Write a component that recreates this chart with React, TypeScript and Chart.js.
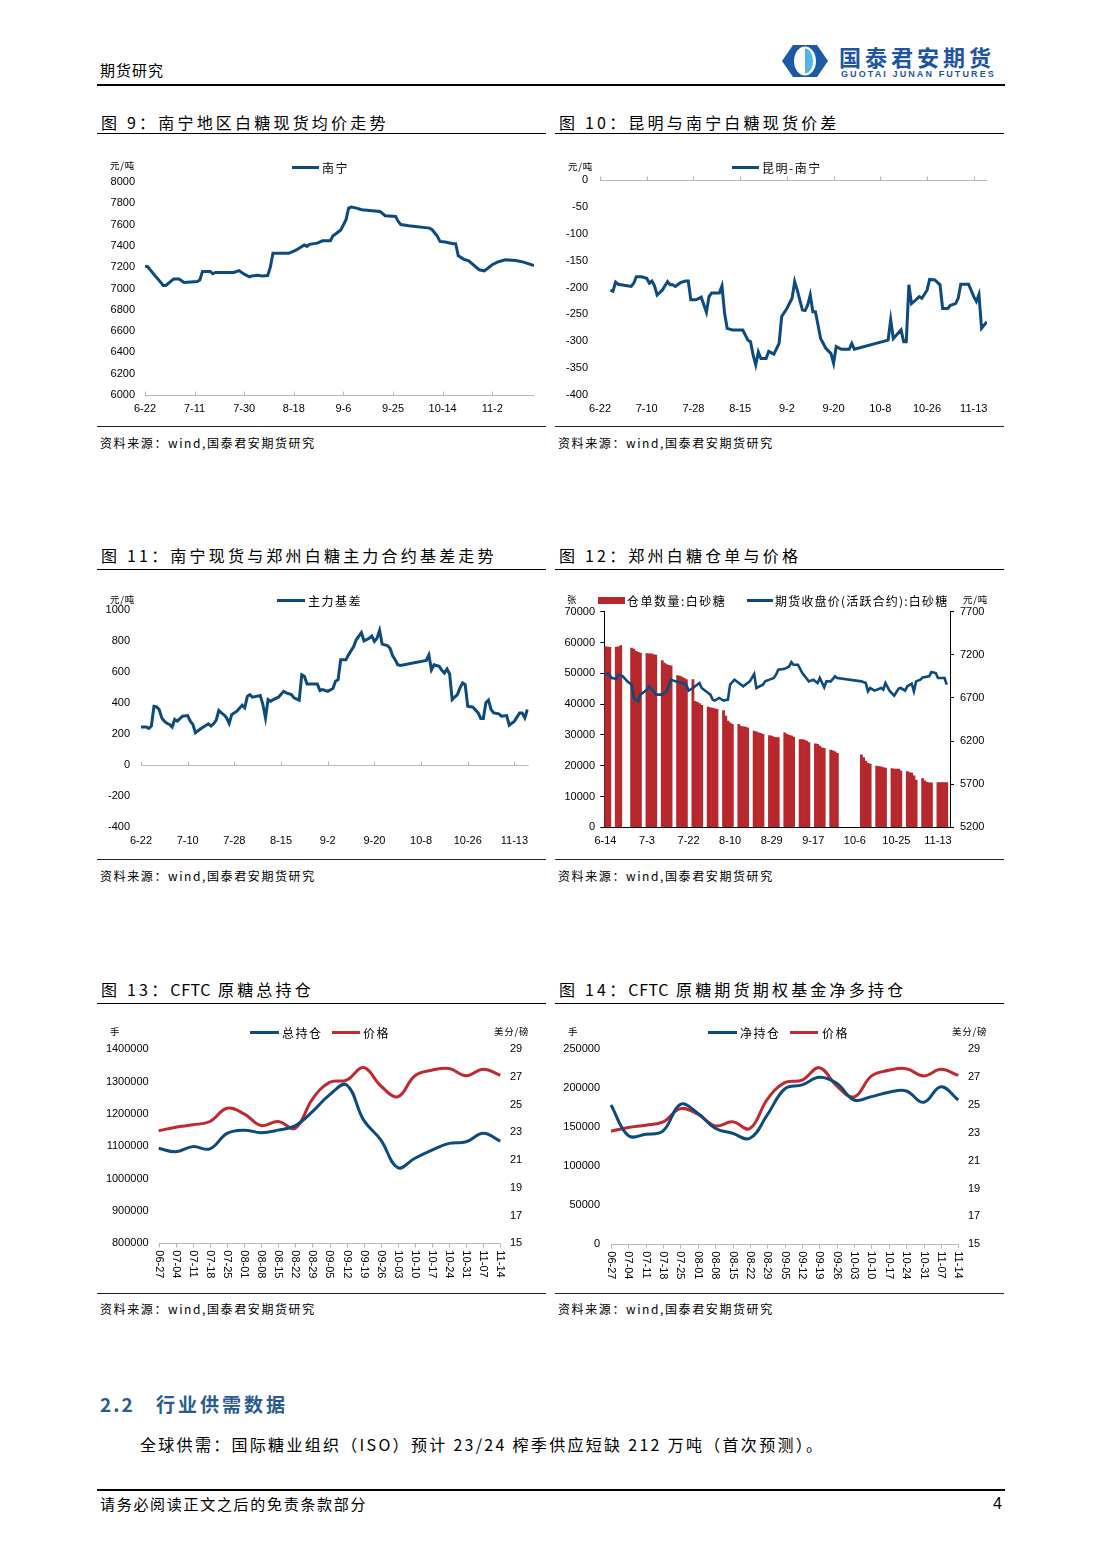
import React, { useEffect, useRef } from 'react';
import { Chart, registerables } from 'chart.js';

Chart.register(...registerables);

const NUM_FONT = "'Liberation Sans', Arial, Helvetica, sans-serif";
const CJK_FONT = "'Noto Sans CJK SC', 'Noto Sans', sans-serif";
Chart.defaults.font.family = NUM_FONT;
Chart.defaults.font.size = 11;
Chart.defaults.color = '#000';

const BLUE = '#0d4a7e';
const RED = '#c0292e';
const BAR_RED = '#b7282d';
const AXIS_GRAY = '#b8b8b8';

// ---------- 图9 南宁白糖现货均价 (day offset from 6-22) ----------
const NN_TICK_DAYS = [0, 19, 38, 57, 76, 95, 114, 133];
const NN_TICK_LABELS = ['6-22', '7-11', '7-30', '8-18', '9-6', '9-25', '10-14', '11-2'];
const NN_DAYS = [0, 1, 4, 5, 7, 8, 11, 13, 15, 20, 21, 22, 25, 26, 27, 34, 36, 38, 40, 41, 43, 45, 47, 48, 49, 55, 57, 58, 61, 62, 63, 66, 68, 71, 72, 73, 75, 77, 78, 79, 81, 83, 87, 90, 92, 96, 97, 98, 101, 109, 110, 112, 113, 115, 118, 119, 120, 122, 124, 128, 130, 133, 135, 138, 142, 145, 149];
const NN_PRICE = [7210, 7205, 7115, 7088, 7028, 7028, 7090, 7090, 7056, 7065, 7080, 7160, 7160, 7138, 7150, 7150, 7168, 7135, 7110, 7118, 7125, 7118, 7122, 7200, 7330, 7330, 7352, 7362, 7408, 7395, 7415, 7426, 7448, 7448, 7495, 7512, 7550, 7646, 7755, 7765, 7755, 7740, 7730, 7724, 7683, 7677, 7630, 7600, 7589, 7567, 7552, 7489, 7442, 7436, 7420, 7420, 7307, 7276, 7260, 7176, 7166, 7223, 7248, 7270, 7263, 7248, 7216];

// ---------- 图10 昆明-南宁 (day offset from 6-22) ----------
const KM_TICK_DAYS = [0, 18, 36, 54, 72, 90, 108, 126, 144];
const KM_TICK_LABELS = ['6-22', '7-10', '7-28', '8-15', '9-2', '9-20', '10-8', '10-26', '11-13'];
const KM_DAYS = [4, 5, 6, 7, 12, 13, 14, 16, 18, 19, 20, 21, 22, 24, 26, 27, 28, 29, 31, 33, 34, 35, 37, 39, 41, 42, 43, 46, 47, 48, 49, 51, 55, 57, 58, 59, 60, 61, 62, 64, 65, 67, 69, 70, 72, 74, 75, 76, 78, 79, 80, 81, 82, 83, 85, 87, 89, 90, 91, 93, 96, 97, 98, 111, 112, 113, 116, 117, 118, 119, 120, 121, 123, 124, 126, 127, 129, 131, 132, 134, 135, 137, 138, 139, 142, 144, 145, 146, 147, 148, 149];
const KM_SPREAD = [-205, -207, -190, -194, -198, -192, -180, -180, -183, -192, -188, -197, -214, -205, -189, -195, -195, -198, -191, -188, -188, -223, -223, -218, -246, -217, -210, -210, -197, -248, -276, -279, -279, -298, -301, -326, -344, -320, -332, -332, -319, -324, -304, -254, -239, -220, -189, -205, -242, -243, -233, -214, -245, -245, -295, -313, -323, -341, -310, -315, -315, -304, -315, -298, -260, -295, -279, -301, -301, -195, -230, -226, -217, -220, -205, -185, -186, -195, -239, -239, -233, -230, -220, -194, -194, -217, -226, -213, -276, -270, -264];

// ---------- 图11 主力基差 (day offset from 6-22) ----------
const JC_TICK_DAYS = [0, 18, 36, 54, 72, 90, 108, 126, 144];
const JC_TICK_LABELS = ['6-22', '7-10', '7-28', '8-15', '9-2', '9-20', '10-8', '10-26', '11-13'];
const JC_DAYS = [0, 2, 3, 4, 5, 6, 7, 8, 9, 10, 11, 12, 13, 14, 16, 18, 19, 20, 21, 23, 26, 27, 28, 29, 30, 31, 32, 33, 34, 35, 37, 39, 40, 41, 42, 43, 46, 47, 48, 49, 50, 51, 53, 55, 56, 58, 59, 61, 62, 63, 64, 68, 69, 70, 72, 74, 75, 76, 77, 79, 80, 82, 83, 85, 86, 88, 89, 90, 91, 92, 93, 95, 96, 97, 98, 99, 100, 110, 111, 112, 113, 115, 116, 117, 118, 119, 120, 122, 123, 124, 125, 126, 128, 130, 131, 132, 133, 134, 135, 136, 138, 139, 141, 142, 144, 146, 147, 148, 149];
const JC_BASIS = [246, 246, 237, 252, 380, 376, 359, 305, 284, 270, 263, 246, 295, 284, 316, 320, 284, 263, 209, 235, 267, 252, 267, 290, 352, 337, 325, 305, 269, 327, 348, 387, 370, 444, 455, 438, 449, 391, 305, 423, 412, 423, 438, 476, 466, 455, 434, 419, 583, 573, 523, 523, 481, 487, 476, 494, 541, 551, 679, 679, 711, 765, 808, 855, 801, 818, 833, 797, 818, 868, 780, 771, 754, 707, 680, 647, 643, 675, 711, 615, 647, 637, 611, 594, 620, 588, 423, 455, 498, 530, 519, 380, 374, 337, 301, 301, 402, 419, 359, 337, 331, 316, 320, 258, 284, 337, 337, 305, 359];

// ---------- 图12 仓单与价格 (day offset from 6-14) ----------
const WR_TICK_DAYS = [0, 19, 38, 57, 76, 95, 114, 133, 152];
const WR_TICK_LABELS = ['6-14', '7-3', '7-22', '8-10', '8-29', '9-17', '10-6', '10-25', '11-13'];
const WR_DAYS = [0, 1, 2, 5, 6, 7, 12, 13, 14, 15, 16, 19, 20, 21, 22, 23, 26, 27, 28, 29, 30, 33, 34, 35, 36, 37, 40, 41, 42, 43, 44, 47, 48, 49, 50, 51, 54, 55, 56, 57, 58, 61, 62, 63, 64, 65, 68, 69, 70, 71, 72, 75, 76, 77, 78, 79, 82, 83, 84, 85, 86, 89, 90, 91, 92, 93, 96, 97, 98, 99, 100, 103, 104, 105, 106, 117, 118, 119, 120, 121, 124, 125, 126, 127, 128, 131, 132, 133, 134, 135, 138, 139, 140, 141, 142, 145, 146, 147, 148, 149, 152, 153, 154, 155, 156];
const WR_QTY = [58700, 58500, 58400, 58500, 58600, 59000, 58200, 57900, 57100, 56800, 56600, 56400, 56300, 56300, 56100, 55900, 54100, 53300, 52800, 52600, 52400, 49300, 49100, 48800, 48400, 48000, 48000, 40900, 40600, 40200, 39600, 39000, 38800, 38700, 38500, 38300, 37900, 36100, 34500, 33900, 33400, 33400, 32800, 32600, 32500, 32300, 31200, 31000, 30700, 30500, 30200, 29800, 29600, 29300, 29100, 29100, 30700, 30200, 29900, 29700, 29300, 28500, 28500, 28300, 28000, 27500, 27100, 26900, 26400, 25800, 25600, 25100, 24800, 24500, 24000, 23500, 22600, 21500, 20800, 20500, 19900, 19700, 19600, 19400, 19200, 19100, 18900, 18900, 18900, 18300, 18100, 17800, 17600, 16700, 15300, 15800, 15100, 14600, 14400, 14400, 14500, 14500, 14500, 14500, 14500];
const WR_PRICE_DAYS = [0, 1, 3, 5, 6, 8, 10, 12, 13, 15, 16, 19, 20, 22, 23, 26, 28, 30, 32, 35, 37, 38, 40, 41, 43, 44, 47, 48, 49, 50, 52, 54, 56, 57, 59, 61, 63, 65, 66, 68, 69, 72, 73, 75, 77, 78, 79, 82, 84, 85, 86, 88, 90, 93, 95, 97, 98, 100, 101, 103, 105, 106, 117, 119, 120, 121, 123, 126, 127, 128, 130, 132, 134, 135, 137, 138, 140, 141, 142, 144, 145, 148, 149, 151, 152, 155, 156];
const WR_PRICE = [6962, 6988, 6931, 6923, 6969, 6950, 6892, 6854, 6700, 6662, 6738, 6796, 6835, 6777, 6738, 6738, 6777, 6912, 6892, 6873, 6854, 6785, 6815, 6835, 6873, 6815, 6758, 6738, 6681, 6669, 6700, 6669, 6681, 6854, 6912, 6873, 6835, 6873, 6892, 6977, 6815, 6854, 6892, 6912, 6931, 6969, 7027, 7038, 7065, 7115, 7085, 7085, 6988, 6892, 6912, 6873, 6931, 6823, 6892, 6892, 6950, 6931, 6892, 6873, 6777, 6815, 6785, 6815, 6796, 6873, 6777, 6727, 6808, 6815, 6785, 6835, 6865, 6777, 6892, 6912, 6938, 6950, 7000, 6988, 6931, 6931, 6854];

// ---------- 图13/14 CFTC ----------
const CFTC_WEEKS = ['06-27', '07-04', '07-11', '07-18', '07-25', '08-01', '08-08', '08-15', '08-22', '08-29', '09-05', '09-12', '09-19', '09-26', '10-03', '10-10', '10-17', '10-24', '10-31', '11-07', '11-14'];
const CFTC_TOTAL_OI = [1094000, 1083000, 1099000, 1092000, 1140000, 1150000, 1142000, 1150000, 1164000, 1207000, 1259000, 1290000, 1181000, 1120000, 1034000, 1063000, 1088000, 1109000, 1114000, 1140000, 1116000];
const CFTC_NET_LONG = [178600, 139300, 141000, 145300, 179500, 168000, 148700, 142300, 135900, 165800, 199100, 204300, 214100, 206400, 185000, 189300, 194900, 196600, 182000, 202100, 185000];
const RAW_SUGAR_PRICE = [23.12, 23.38, 23.55, 23.79, 24.74, 24.34, 23.5, 23.79, 23.31, 25.41, 26.61, 26.78, 27.68, 26.37, 25.58, 27.09, 27.49, 27.61, 27.09, 27.56, 27.13];

// ---------- helpers ----------
const pts = (xs: number[], ys: number[]) => xs.map((x, i) => ({ x, y: ys[i] }));
const plain = (v: any) => String(v);
const noGrid = { display: false, drawTicks: false };
const noBorder = { display: false };
const fixedWidth = (w: number) => (s: any) => { s.width = w; };
const fixedHeight = (h: number) => (s: any) => { s.height = h; };

function dayAxis(min: number, max: number, tickDays: number[], tickLabels: string[], height: number, extra: any = {}) {
  return {
    type: 'linear',
    min,
    max,
    bounds: 'data',
    offset: false,
    afterBuildTicks: (s: any) => { s.ticks = tickDays.map((v) => ({ value: v })); },
    afterFit: fixedHeight(height),
    grid: noGrid,
    border: noBorder,
    ticks: {
      autoSkip: false,
      maxRotation: 0,
      minRotation: 0,
      padding: 7,
      callback: (v: any) => {
        const i = tickDays.indexOf(Number(v));
        return i >= 0 ? tickLabels[i] : '';
      },
    },
    ...extra,
  };
}

function valueAxis(min: number, max: number, step: number, width: number, padding: number, extra: any = {}) {
  return {
    min,
    max,
    afterFit: fixedWidth(width),
    grid: noGrid,
    border: noBorder,
    ticks: { stepSize: step, padding, callback: plain },
    ...extra,
  };
}

function axisLinePlugin(yValue: number, tickDays: number[], dir: number) {
  return {
    id: 'axisLine',
    beforeDatasetsDraw(chart: any) {
      const { ctx, chartArea, scales } = chart;
      const y = Math.round(scales.y.getPixelForValue(yValue)) + 0.5;
      ctx.save();
      ctx.strokeStyle = AXIS_GRAY;
      ctx.lineWidth = 1;
      ctx.beginPath();
      ctx.moveTo(chartArea.left, y);
      ctx.lineTo(chartArea.right, y);
      tickDays.forEach((d) => {
        const x = Math.round(scales.x.getPixelForValue(d)) + 0.5;
        ctx.moveTo(x, y);
        ctx.lineTo(x, y + dir * 4);
      });
      ctx.stroke();
      ctx.restore();
    },
  };
}

function weekAxisPlugin(labels: string[]) {
  return {
    id: 'weekAxis',
    afterDraw(chart: any) {
      const { ctx, chartArea, scales } = chart;
      const y = Math.round(chartArea.bottom) + 0.5;
      ctx.save();
      ctx.strokeStyle = AXIS_GRAY;
      ctx.lineWidth = 1;
      ctx.beginPath();
      ctx.moveTo(chartArea.left, y);
      ctx.lineTo(chartArea.right, y);
      labels.forEach((_, i) => {
        const x = Math.round(scales.x.getPixelForValue(i)) + 0.5;
        ctx.moveTo(x, y);
        ctx.lineTo(x, y + 4);
      });
      ctx.stroke();
      ctx.fillStyle = '#000';
      ctx.font = `11px ${NUM_FONT}`;
      ctx.textAlign = 'left';
      ctx.textBaseline = 'middle';
      labels.forEach((lab, i) => {
        const x = scales.x.getPixelForValue(i);
        ctx.save();
        ctx.translate(x, chartArea.bottom + 7);
        ctx.rotate(Math.PI / 2);
        ctx.fillText(lab, 0, 0);
        ctx.restore();
      });
      ctx.restore();
    },
  };
}

const commonOpts = {
  responsive: false,
  animation: false,
  events: [],
  plugins: { legend: { display: false }, tooltip: { enabled: false } },
};

function lineSet(label: string, data: any[], color: string, width: number, extra: any = {}) {
  return { label, data, borderColor: color, backgroundColor: color, borderWidth: width, pointRadius: 0, tension: 0, fill: false, ...extra };
}

// ---------- chart configs ----------
const cfg9 = () => ({
  type: 'line',
  data: { datasets: [lineSet('南宁', pts(NN_DAYS, NN_PRICE), BLUE, 3)] },
  options: {
    ...commonOpts,
    layout: { padding: { top: 42, right: 12, left: 0, bottom: 0 } },
    scales: {
      x: dayAxis(0, 149, NN_TICK_DAYS, NN_TICK_LABELS, 30),
      y: valueAxis(6000, 8000, 200, 48, 10),
    },
  },
  plugins: [axisLinePlugin(6000, NN_TICK_DAYS, -1)],
});

const cfg10 = () => ({
  type: 'line',
  data: { datasets: [lineSet('昆明-南宁', pts(KM_DAYS, KM_SPREAD), BLUE, 3)] },
  options: {
    ...commonOpts,
    layout: { padding: { top: 40, right: 17, left: 0, bottom: 0 } },
    scales: {
      x: dayAxis(0, 149.1, KM_TICK_DAYS, KM_TICK_LABELS, 30),
      y: valueAxis(-400, 0, 50, 45, 12),
    },
  },
  plugins: [axisLinePlugin(0, KM_TICK_DAYS, -1)],
});

const cfg11 = () => ({
  type: 'line',
  data: { datasets: [lineSet('主力基差', pts(JC_DAYS, JC_BASIS), BLUE, 3)] },
  options: {
    ...commonOpts,
    layout: { padding: { top: 35, right: 17.3, left: 0, bottom: 0 } },
    scales: {
      x: dayAxis(0, 149.5, JC_TICK_DAYS, JC_TICK_LABELS, 31.7),
      y: valueAxis(-400, 1000, 200, 44, 11),
    },
  },
  plugins: [axisLinePlugin(0, JC_TICK_DAYS, -1)],
});

const cfg12 = () => ({
  type: 'bar',
  data: {
    datasets: [
      lineSet('期货收盘价(活跃合约):白砂糖', pts(WR_PRICE_DAYS, WR_PRICE), BLUE, 2.6, { type: 'line', yAxisID: 'y1', order: 0 }),
      {
        type: 'bar',
        label: '仓单数量:白砂糖',
        data: pts(WR_DAYS, WR_QTY),
        backgroundColor: BAR_RED,
        borderWidth: 0,
        barPercentage: 1,
        categoryPercentage: 1,
        yAxisID: 'y',
        order: 1,
      },
    ],
  },
  options: {
    ...commonOpts,
    layout: { padding: { top: 36.7, right: 0, left: 0, bottom: 0 } },
    scales: {
      x: dayAxis(-0.5, 157.5, WR_TICK_DAYS, WR_TICK_LABELS, 31.7, { border: { display: true, color: '#000', width: 1 } }),
      y: {
        position: 'left',
        min: 0,
        max: 70000,
        afterFit: fixedWidth(49.3),
        grid: { drawOnChartArea: false, drawTicks: true, tickLength: 4, color: '#000' },
        border: { display: true, color: '#000', width: 1 },
        ticks: { stepSize: 10000, padding: 5.3, callback: plain },
      },
      y1: {
        position: 'right',
        min: 5200,
        max: 7700,
        afterFit: fixedWidth(54),
        grid: { drawOnChartArea: false, drawTicks: true, tickLength: 4, color: '#000' },
        border: { display: true, color: '#000', width: 1 },
        ticks: { stepSize: 500, padding: 6, callback: plain },
      },
    },
  },
});

const cftcCfg = (label: string, values: number[], min: number, max: number, step: number, leftW: number, leftPad: number, bottom: number) => () => ({
  type: 'line',
  data: {
    labels: CFTC_WEEKS,
    datasets: [
      lineSet(label, values, BLUE, 3, { yAxisID: 'y', tension: 0.4 }),
      lineSet('价格', RAW_SUGAR_PRICE, RED, 3, { yAxisID: 'y1', tension: 0.4 }),
    ],
  },
  options: {
    ...commonOpts,
    layout: { padding: { top: 39.3, right: 0, left: 0, bottom } },
    scales: {
      x: { type: 'category', display: false, offset: false },
      y: { position: 'left', ...valueAxis(min, max, step, leftW, leftPad) },
      y1: { position: 'right', ...valueAxis(15, 29, 2, 45.7, 9.7) },
    },
  },
  plugins: [weekAxisPlugin(CFTC_WEEKS)],
});

const cfg13 = cftcCfg('总持仓', CFTC_TOTAL_OI, 800000, 1400000, 100000, 61.7, 10, 49.7);
const cfg14 = cftcCfg('净持仓', CFTC_NET_LONG, 0, 250000, 50000, 56, 11, 48.7);

// ---------- components ----------
function ChartBox({ left, top, width, height, build }: any) {
  const ref = useRef<HTMLCanvasElement>(null);
  useEffect(() => {
    const chart = new Chart(ref.current as HTMLCanvasElement, build() as any);
    return () => chart.destroy();
  }, []);
  return (
    <div style={{ position: 'absolute', left, top, width, height }}>
      <canvas ref={ref} width={width} height={height} style={{ width, height, display: 'block' }} />
    </div>
  );
}

function T({ x, cy, size, children, style }: any) {
  return (
    <div
      style={{
        position: 'absolute',
        left: x,
        top: cy,
        transform: 'translateY(-50%)',
        fontSize: size,
        lineHeight: 1.25,
        whiteSpace: 'nowrap',
        fontFamily: CJK_FONT,
        color: '#000',
        ...style,
      }}
    >
      {children}
    </div>
  );
}

function HLine({ x, y, w, h = 1, color = '#000' }: any) {
  return <div style={{ position: 'absolute', left: x, top: y, width: w, height: h, background: color }} />;
}

function LegLine({ x, cy, w, color, h = 3 }: any) {
  return <div style={{ position: 'absolute', left: x, top: cy - h / 2, width: w, height: h, background: color }} />;
}

const TITLE_STYLE = { letterSpacing: 3.2 };
const LEG = { letterSpacing: 1.5 };
const UNIT = { letterSpacing: 0.8 };
const SRC = { letterSpacing: 1.6 };
const TIGHT = { letterSpacing: 0.6 };

export default function App() {
  return (
    <div style={{ position: 'absolute', left: 0, top: 0, width: 1102, height: 1559, background: '#fff', overflow: 'hidden' }}>
      {/* header */}
      <T x={100} cy={70} size={15} style={{ letterSpacing: 1 }}>期货研究</T>
      <svg style={{ position: 'absolute', left: 781, top: 44 }} width={48} height={34} viewBox="0 0 48 34">
        <path d="M12 1 L36 1 L47 17 L36 33 L12 33 L1 17 Z" fill="#1c5aa6" />
        <ellipse cx={24} cy={17} rx={11} ry={14.5} fill="#ffffff" />
        <path d="M24 4.5 A8 12.5 0 0 1 24 29.5 Z" fill="#4fb4e8" />
      </svg>
      <T x={839} cy={56} size={22} style={{ fontWeight: 700, color: '#1d54a3', letterSpacing: 4, lineHeight: 1 }}>国泰君安期货</T>
      <T x={841} cy={73.5} size={9} style={{ fontFamily: NUM_FONT, fontWeight: 700, color: '#1d54a3', letterSpacing: 2.1, lineHeight: 1 }}>GUOTAI JUNAN FUTURES</T>
      <HLine x={97} y={84} w={908} h={2} />

      {/* row 1 */}
      <T x={101} cy={122} size={16} style={TITLE_STYLE}>图 9：南宁地区白糖现货均价走势</T>
      <T x={559} cy={122} size={16} style={TITLE_STYLE}>图 10：昆明与南宁白糖现货价差</T>
      <HLine x={97} y={133} w={449} />
      <HLine x={555} y={133} w={449} />
      <ChartBox left={97} top={140} width={449} height={285} build={cfg9} />
      <ChartBox left={555} top={140} width={449} height={285} build={cfg10} />
      <T x={110} cy={166} size={9.5} style={UNIT}>元/吨</T>
      <LegLine x={292} cy={167} w={27} color={BLUE} />
      <T x={322} cy={167} size={12} style={LEG}>南宁</T>
      <T x={568} cy={167} size={9.5} style={UNIT}>元/吨</T>
      <LegLine x={732} cy={167} w={27} color={BLUE} />
      <T x={762} cy={167} size={12} style={LEG}>昆明-南宁</T>
      <HLine x={97} y={426} w={449} color="#222" />
      <HLine x={555} y={426} w={449} color="#222" />
      <T x={100} cy={442} size={12} style={SRC}>资料来源：wind,国泰君安期货研究</T>
      <T x={558} cy={442} size={12} style={SRC}>资料来源：wind,国泰君安期货研究</T>

      {/* row 2 */}
      <T x={101} cy={555} size={16} style={TITLE_STYLE}>图 11：南宁现货与郑州白糖主力合约基差走势</T>
      <T x={559} cy={555} size={16} style={TITLE_STYLE}>图 12：郑州白糖仓单与价格</T>
      <HLine x={97} y={569} w={449} />
      <HLine x={555} y={569} w={449} />
      <ChartBox left={97} top={575} width={449} height={284} build={cfg11} />
      <ChartBox left={555} top={575} width={449} height={284} build={cfg12} />
      <T x={110} cy={600} size={9.5} style={UNIT}>元/吨</T>
      <LegLine x={277} cy={600} w={28} color={BLUE} />
      <T x={308} cy={600} size={12} style={LEG}>主力基差</T>
      <T x={567} cy={600} size={9.5} style={UNIT}>张</T>
      <LegLine x={598} cy={600} w={27} h={7} color={BAR_RED} />
      <T x={627} cy={600} size={12} style={LEG}>仓单数量:白砂糖</T>
      <LegLine x={747} cy={600} w={26} color={BLUE} />
      <T x={775} cy={600} size={12} style={{ letterSpacing: 1.2 }}>期货收盘价(活跃合约):白砂糖</T>
      <T x={963} cy={600} size={9.5} style={UNIT}>元/吨</T>
      <HLine x={97} y={859} w={449} color="#222" />
      <HLine x={555} y={859} w={449} color="#222" />
      <T x={100} cy={875} size={12} style={SRC}>资料来源：wind,国泰君安期货研究</T>
      <T x={558} cy={875} size={12} style={SRC}>资料来源：wind,国泰君安期货研究</T>

      {/* row 3 */}
      <T x={101} cy={989} size={16} style={TITLE_STYLE}>图 13：<span style={TIGHT}>CFTC</span> 原糖总持仓</T>
      <T x={559} cy={989} size={16} style={TITLE_STYLE}>图 14：<span style={TIGHT}>CFTC</span> 原糖期货期权基金净多持仓</T>
      <HLine x={97} y={1003} w={449} />
      <HLine x={555} y={1003} w={449} />
      <ChartBox left={97} top={1010} width={449} height={283} build={cfg13} />
      <ChartBox left={555} top={1010} width={449} height={283} build={cfg14} />
      <T x={110} cy={1032} size={9.5} style={UNIT}>手</T>
      <LegLine x={250} cy={1032} w={29} color={BLUE} />
      <T x={282} cy={1032} size={12} style={LEG}>总持仓</T>
      <LegLine x={332} cy={1032} w={28} color={RED} />
      <T x={363} cy={1032} size={12} style={LEG}>价格</T>
      <T x={494} cy={1032} size={9.5} style={UNIT}>美分/磅</T>
      <T x={568} cy={1032} size={9.5} style={UNIT}>手</T>
      <LegLine x={708} cy={1032} w={29} color={BLUE} />
      <T x={740} cy={1032} size={12} style={LEG}>净持仓</T>
      <LegLine x={790} cy={1032} w={28} color={RED} />
      <T x={822} cy={1032} size={12} style={LEG}>价格</T>
      <T x={952} cy={1032} size={9.5} style={UNIT}>美分/磅</T>
      <HLine x={97} y={1293} w={449} color="#222" />
      <HLine x={555} y={1293} w={449} color="#222" />
      <T x={100} cy={1308} size={12} style={SRC}>资料来源：wind,国泰君安期货研究</T>
      <T x={558} cy={1308} size={12} style={SRC}>资料来源：wind,国泰君安期货研究</T>

      {/* section */}
      <T x={100} cy={1404} size={19} style={{ fontWeight: 700, color: '#2a5b8c', letterSpacing: 2 }}>2.2</T>
      <T x={156} cy={1404} size={19} style={{ fontWeight: 700, color: '#2a5b8c', letterSpacing: 3 }}>行业供需数据</T>
      <T x={140} cy={1444} size={16} style={{ letterSpacing: 2.3 }}>全球供需：国际糖业组织（ISO）预计 23/24 榨季供应短缺 212 万吨（首次预测）。</T>

      {/* footer */}
      <HLine x={97} y={1489} w={908} h={2} />
      <T x={100} cy={1504} size={15} style={{ letterSpacing: 1.7 }}>请务必阅读正文之后的免责条款部分</T>
      <T x={993} cy={1504} size={16} style={{ fontFamily: NUM_FONT }}>4</T>
    </div>
  );
}
